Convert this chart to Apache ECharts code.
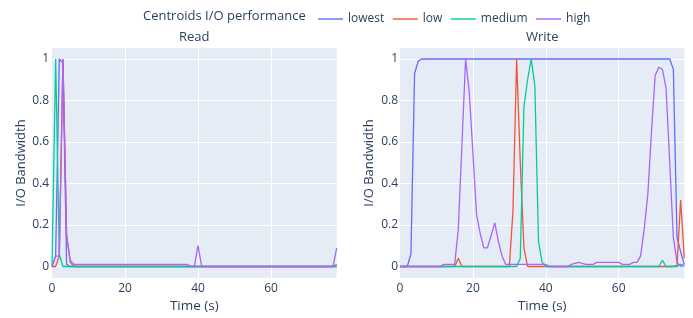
<!DOCTYPE html>
<html>
<head>
<meta charset="utf-8">
<script src="https://cdn.jsdelivr.net/npm/echarts@6/dist/echarts.min.js"></script>
<style>
  html, body { margin: 0; padding: 0; background: #fff; }
  #chart { width: 693px; height: 318px; }
</style>
</head>
<body>
<div id="chart"></div>
<script>
// time axis, one sample per second
const times = Array.from({ length: 79 }, (_, i) => i);

const seriesNames = ['lowest', 'low', 'medium', 'high'];
const colors = ['#636efa', '#EF553B', '#00cc96', '#ab63fa'];

const yTicks = [0, 0.2, 0.4, 0.6, 0.8, 1];
const xTicks = [0, 20, 40, 60];

// Read panel
const readLowest = [0, 0.05, 1, 0.98, 0.01, 0, 0, 0, 0, 0,
  0, 0, 0, 0, 0, 0, 0, 0, 0, 0,
  0, 0, 0, 0, 0, 0, 0, 0, 0, 0,
  0, 0, 0, 0, 0, 0, 0, 0, 0, 0,
  0, 0, 0, 0, 0, 0, 0, 0, 0, 0,
  0, 0, 0, 0, 0, 0, 0, 0, 0, 0,
  0, 0, 0, 0, 0, 0, 0, 0, 0, 0,
  0, 0, 0, 0, 0, 0, 0, 0, 0];
const readLow = [0, 0, 0.05, 1, 0.15, 0.02, 0, 0, 0, 0,
  0, 0, 0, 0, 0, 0, 0, 0, 0, 0,
  0, 0, 0, 0, 0, 0, 0, 0, 0, 0,
  0, 0, 0, 0, 0, 0, 0, 0, 0, 0,
  0, 0, 0, 0, 0, 0, 0, 0, 0, 0,
  0, 0, 0, 0, 0, 0, 0, 0, 0, 0,
  0, 0, 0, 0, 0, 0, 0, 0, 0, 0,
  0, 0, 0, 0, 0, 0, 0, 0, 0.01];
const readMedium = [0, 1, 0.06, 0, 0, 0, 0, 0, 0, 0,
  0, 0, 0, 0, 0, 0, 0, 0, 0, 0,
  0, 0, 0, 0, 0, 0, 0, 0, 0, 0,
  0, 0, 0, 0, 0, 0, 0, 0, 0, 0,
  0, 0, 0, 0, 0, 0, 0, 0, 0, 0,
  0, 0, 0, 0, 0, 0, 0, 0, 0, 0,
  0, 0, 0, 0, 0, 0, 0, 0, 0, 0,
  0, 0, 0, 0, 0, 0, 0, 0, 0];
const readHigh = [0, 0.05, 0.05, 1, 0.15, 0.03, 0.01, 0.01, 0.01, 0.01,
  0.01, 0.01, 0.01, 0.01, 0.01, 0.01, 0.01, 0.01, 0.01, 0.01,
  0.01, 0.01, 0.01, 0.01, 0.01, 0.01, 0.01, 0.01, 0.01, 0.01,
  0.01, 0.01, 0.01, 0.01, 0.01, 0.01, 0.01, 0.01, 0, 0,
  0.1, 0, 0, 0, 0, 0, 0, 0, 0, 0,
  0, 0, 0, 0, 0, 0, 0, 0, 0, 0,
  0, 0, 0, 0, 0, 0, 0, 0, 0, 0,
  0, 0, 0, 0, 0, 0, 0, 0, 0.09];

// Write panel
const writeLowest = [0, 0, 0, 0.06, 0.93, 0.99, 1, 1, 1, 1,
  1, 1, 1, 1, 1, 1, 1, 1, 1, 1,
  1, 1, 1, 1, 1, 1, 1, 1, 1, 1,
  1, 1, 1, 1, 1, 1, 1, 1, 1, 1,
  1, 1, 1, 1, 1, 1, 1, 1, 1, 1,
  1, 1, 1, 1, 1, 1, 1, 1, 1, 1,
  1, 1, 1, 1, 1, 1, 1, 1, 1, 1,
  1, 1, 1, 1, 1, 0.95, 0.14, 0.07, 0.01];
const writeLow = [0, 0, 0, 0, 0, 0, 0, 0, 0, 0,
  0, 0, 0, 0, 0, 0, 0.04, 0, 0, 0,
  0, 0, 0, 0, 0, 0, 0, 0, 0, 0,
  0, 0.27, 1, 0.5, 0.09, 0, 0, 0, 0, 0,
  0, 0, 0, 0, 0, 0, 0, 0, 0, 0,
  0, 0, 0, 0, 0, 0, 0, 0, 0, 0,
  0, 0, 0, 0, 0, 0, 0, 0, 0, 0,
  0, 0, 0, 0, 0, 0, 0.005, 0.32, 0.04];
const writeMedium = [0, 0, 0, 0, 0, 0, 0, 0, 0, 0,
  0, 0, 0, 0, 0, 0, 0, 0, 0, 0,
  0, 0, 0, 0, 0, 0, 0, 0, 0, 0,
  0, 0, 0, 0.04, 0.77, 0.9, 1, 0.87, 0.12, 0.02,
  0, 0, 0, 0, 0, 0, 0, 0, 0, 0,
  0, 0, 0, 0, 0, 0, 0, 0, 0, 0,
  0, 0, 0, 0, 0, 0, 0, 0, 0, 0,
  0, 0, 0.03, 0, 0, 0, 0, 0.01, 0];
const writeHigh = [0, 0, 0, 0, 0, 0, 0, 0, 0, 0,
  0, 0, 0.01, 0.01, 0.01, 0.01, 0.18, 0.59, 1, 0.84,
  0.55, 0.25, 0.16, 0.09, 0.09, 0.15, 0.21, 0.12, 0.05, 0.01,
  0.01, 0.01, 0.01, 0.01, 0.01, 0.01, 0.01, 0.01, 0.01, 0.01,
  0.01, 0, 0, 0, 0, 0, 0, 0.01, 0.015, 0.02,
  0.015, 0.01, 0.01, 0.01, 0.02, 0.02, 0.02, 0.02, 0.02, 0.02,
  0.02, 0.01, 0.01, 0.01, 0.02, 0.02, 0.05, 0.18, 0.35, 0.65,
  0.92, 0.96, 0.95, 0.86, 0.5, 0.14, 0.02, 0, 0.01];

const readData = [readLowest, readLow, readMedium, readHigh];
const writeData = [writeLowest, writeLow, writeMedium, writeHigh];

const textColor = '#2a3f5f';
const font = 'Open Sans';

const chart = echarts.init(document.getElementById('chart'));

const makeX = (gridIndex) => ({
  type: 'value', gridIndex, min: 0, max: 78, interval: 20,
  axisLine: { show: false }, axisTick: { show: false }, splitLine: { show: false },
  axisLabel: { color: textColor, fontSize: 12, fontFamily: font, margin: 4, showMaxLabel: false },
  name: 'Time (s)', nameLocation: 'middle', nameGap: 17,
  nameTextStyle: { color: textColor, fontSize: 13.5, fontFamily: font }
});

const makeY = (gridIndex, gap, margin) => ({
  type: 'value', gridIndex, min: -0.056, max: 1.053,
  axisLine: { show: false }, axisTick: { show: false }, splitLine: { show: false },
  axisLabel: { color: textColor, fontSize: 12, fontFamily: font, margin, customValues: yTicks },
  name: 'I/O Bandwidth', nameLocation: 'middle', nameGap: gap,
  nameTextStyle: { color: textColor, fontSize: 13, fontFamily: font }
});

// white grid lines under the data
const gridLines = (idx) => ({
  type: 'line', xAxisIndex: idx, yAxisIndex: idx, data: [], z: 1,
  markLine: {
    silent: true, symbol: 'none', z: 1, animation: false,
    label: { show: false },
    lineStyle: { color: '#ffffff', width: 1, type: 'solid' },
    data: yTicks.map(v => ({ yAxis: v })).concat(xTicks.slice(1).map(v => ({ xAxis: v })))
  }
});

const lineSeries = (dataSets, idx) => dataSets.map((vals, i) => ({
  name: seriesNames[i], type: 'line', xAxisIndex: idx, yAxisIndex: idx,
  data: times.map((t, k) => [t, vals[k]]),
  showSymbol: false, symbol: 'none', z: 2,
  lineStyle: { width: 1.3, color: colors[i] }, itemStyle: { color: colors[i] }
}));

const option = {
  animation: false,
  color: colors,
  textStyle: { fontFamily: font },
  grid: [
    { left: 52, top: 48, width: 284.7, height: 233.7, show: true, backgroundColor: '#E5ECF6', borderWidth: 0 },
    { left: 400, top: 48, width: 284.3, height: 233.7, show: true, backgroundColor: '#E5ECF6', borderWidth: 0 }
  ],
  xAxis: [makeX(0), makeX(1)],
  yAxis: [makeY(0, 21, 3), makeY(1, 24, 2)],
  legend: {
    data: seriesNames, left: 313, top: 8,
    icon: 'rect', itemWidth: 25, itemHeight: 2, itemGap: 8.5,
    itemStyle: { opacity: 0.7 },
    textStyle: { color: textColor, fontSize: 12, fontFamily: font }
  },
  graphic: [
    { type: 'text', x: 143, y: 16, style: { text: 'Centroids I/O performance', fill: textColor, font: '13px "Open Sans"', textAlign: 'left', textVerticalAlign: 'middle' } },
    { type: 'text', x: 194.3, y: 37.5, style: { text: 'Read', fill: textColor, font: '13px "Open Sans"', textAlign: 'center', textVerticalAlign: 'middle' } },
    { type: 'text', x: 542.2, y: 37.5, style: { text: 'Write', fill: textColor, font: '13px "Open Sans"', textAlign: 'center', textVerticalAlign: 'middle' } }
  ],
  series: [gridLines(0), gridLines(1)].concat(lineSeries(readData, 0), lineSeries(writeData, 1))
};

chart.setOption(option);
window.addEventListener('resize', () => chart.resize());
</script>
</body>
</html>
